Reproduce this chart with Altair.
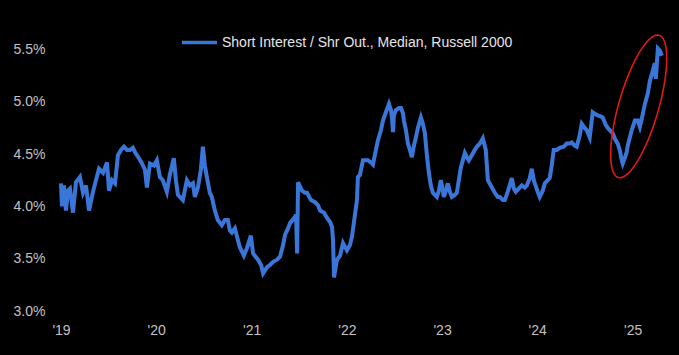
import math
import altair as alt
import pandas as pd

# ---- data (decimal year, short interest % of shares outstanding) ----
years = [
    2019.000, 2019.010, 2019.031, 2019.052, 2019.073, 2019.094, 2019.126, 2019.157, 2019.199, 2019.231,
    2019.262, 2019.294, 2019.336, 2019.367, 2019.399, 2019.441, 2019.483, 2019.504, 2019.535, 2019.567,
    2019.598, 2019.630, 2019.661, 2019.693, 2019.724, 2019.755, 2019.776, 2019.818, 2019.850, 2019.881,
    2019.902, 2019.934, 2019.976, 2020.007, 2020.039, 2020.070, 2020.112, 2020.143, 2020.185, 2020.207,
    2020.228, 2020.280, 2020.322, 2020.354, 2020.385, 2020.406, 2020.438, 2020.469, 2020.490, 2020.511,
    2020.532, 2020.563, 2020.584, 2020.616, 2020.647, 2020.689, 2020.721, 2020.752, 2020.773, 2020.794,
    2020.826, 2020.857, 2020.878, 2020.920, 2020.952, 2020.994, 2021.015, 2021.067, 2021.099, 2021.120,
    2021.141, 2021.162, 2021.193, 2021.225, 2021.267, 2021.298, 2021.330, 2021.351, 2021.382, 2021.403,
    2021.456, 2021.466, 2021.477, 2021.487, 2021.529, 2021.560, 2021.581, 2021.623, 2021.665, 2021.697,
    2021.718, 2021.760, 2021.791, 2021.823, 2021.844, 2021.854, 2021.865, 2021.886, 2021.896, 2021.928,
    2021.959, 2022.001, 2022.033, 2022.054, 2022.085, 2022.106, 2022.116, 2022.137, 2022.169, 2022.190,
    2022.221, 2022.253, 2022.274, 2022.305, 2022.326, 2022.358, 2022.379, 2022.410, 2022.442, 2022.463,
    2022.473, 2022.484, 2022.494, 2022.515, 2022.547, 2022.568, 2022.589, 2022.599, 2022.620, 2022.641,
    2022.662, 2022.683, 2022.704, 2022.725, 2022.746, 2022.777, 2022.798, 2022.819, 2022.840, 2022.861,
    2022.882, 2022.903, 2022.924, 2022.945, 2022.966, 2022.987, 2023.008, 2023.019, 2023.040, 2023.061,
    2023.082, 2023.103, 2023.134, 2023.155, 2023.176, 2023.197, 2023.218, 2023.239, 2023.260, 2023.281,
    2023.313, 2023.344, 2023.365, 2023.397, 2023.428, 2023.459, 2023.481, 2023.512, 2023.554, 2023.585,
    2023.606, 2023.638, 2023.659, 2023.690, 2023.732, 2023.753, 2023.774, 2023.806, 2023.837, 2023.869,
    2023.890, 2023.921, 2023.942, 2023.963, 2023.974, 2024.005, 2024.026, 2024.058, 2024.079, 2024.110,
    2024.131, 2024.152, 2024.173, 2024.205, 2024.236, 2024.278, 2024.309, 2024.341, 2024.362, 2024.393,
    2024.414, 2024.446, 2024.467, 2024.498, 2024.519, 2024.551, 2024.572, 2024.582, 2024.614, 2024.635,
    2024.666, 2024.687, 2024.719, 2024.740, 2024.771, 2024.792, 2024.823, 2024.845, 2024.866, 2024.887,
    2024.897, 2024.918, 2024.939, 2024.950, 2024.992, 2025.023, 2025.054, 2025.075, 2025.096, 2025.128,
    2025.159, 2025.180, 2025.212, 2025.233, 2025.243, 2025.264, 2025.285, 2025.306,
]
short_interest = [
    4.22, 4.00, 4.20, 3.96, 4.15, 4.17, 3.94, 4.23, 4.28, 4.13,
    4.20, 3.96, 4.14, 4.25, 4.36, 4.32, 4.42, 4.15, 4.25, 4.22,
    4.49, 4.54, 4.57, 4.54, 4.54, 4.56, 4.52, 4.46, 4.41, 4.35,
    4.18, 4.41, 4.39, 4.44, 4.28, 4.25, 4.14, 4.30, 4.46, 4.25,
    4.11, 4.06, 4.25, 4.20, 4.22, 4.09, 4.18, 4.35, 4.57, 4.39,
    4.28, 4.13, 4.09, 3.96, 3.87, 3.82, 3.87, 3.87, 3.77, 3.75,
    3.79, 3.68, 3.61, 3.53, 3.60, 3.72, 3.55, 3.49, 3.44, 3.36,
    3.39, 3.42, 3.44, 3.47, 3.49, 3.52, 3.63, 3.73, 3.79, 3.84,
    3.90, 3.92, 3.55, 4.23, 4.15, 4.13, 4.13, 4.06, 4.04, 4.01,
    3.96, 3.94, 3.89, 3.85, 3.80, 3.68, 3.32, 3.44, 3.49, 3.53,
    3.65, 3.58, 3.63, 3.71, 3.92, 4.06, 4.28, 4.30, 4.44, 4.44,
    4.44, 4.42, 4.40, 4.54, 4.63, 4.73, 4.82, 4.90, 4.98, 4.92,
    4.85, 4.71, 4.87, 4.92, 4.94, 4.94, 4.89, 4.82, 4.73, 4.60,
    4.54, 4.47, 4.58, 4.66, 4.75, 4.85, 4.79, 4.70, 4.49, 4.32,
    4.20, 4.13, 4.11, 4.09, 4.15, 4.25, 4.15, 4.09, 4.15, 4.22,
    4.14, 4.09, 4.11, 4.13, 4.25, 4.37, 4.44, 4.51, 4.47, 4.44,
    4.49, 4.54, 4.57, 4.60, 4.65, 4.54, 4.25, 4.20, 4.13, 4.09,
    4.09, 4.06, 4.06, 4.14, 4.27, 4.17, 4.14, 4.17, 4.20, 4.18,
    4.20, 4.27, 4.36, 4.25, 4.22, 4.14, 4.09, 4.15, 4.22, 4.25,
    4.27, 4.39, 4.54, 4.54, 4.56, 4.57, 4.60, 4.60, 4.61, 4.58,
    4.57, 4.68, 4.79, 4.75, 4.73, 4.66, 4.82, 4.90, 4.88, 4.87,
    4.86, 4.85, 4.78, 4.75, 4.72, 4.70, 4.63, 4.60, 4.54, 4.44,
    4.41, 4.46, 4.52, 4.58, 4.73, 4.82, 4.82, 4.76, 4.84, 4.98,
    5.08, 5.20, 5.30, 5.37, 5.22, 5.51, 5.49, 5.44,
]
series_name = "Short Interest / Shr Out., Median, Russell 2000"
y_ticks = [3.0, 3.5, 4.0, 4.5, 5.0, 5.5]
x_ticks = ["2019-01-01", "2020-01-01", "2021-01-01", "2022-01-01",
           "2023-01-01", "2024-01-01", "2025-01-01"]
# annotation ellipse centre (date, value)
ellipse_center_date = ["2025-01-24"]
ellipse_center_value = [4.956]


def to_date(t):
    y = int(t)
    return pd.Timestamp(y, 1, 1) + pd.Timedelta(days=(t - y) * 365.25)


df = pd.DataFrame({
    "date": [to_date(t) for t in years],
    "value": short_interest,
    "series": series_name,
})
ann = pd.DataFrame({"date": pd.to_datetime(ellipse_center_date),
                    "value": ellipse_center_value})

# ellipse outline as a custom symbol path (pixel units, size=4 => scale 1)
a, b, phi = 74.0, 20.0, math.radians(16)
ux, uy = math.sin(phi), -math.cos(phi)
vx, vy = math.cos(phi), math.sin(phi)
pts = []
for i in range(73):
    th = 2 * math.pi * i / 72
    px = a * math.cos(th) * ux + b * math.sin(th) * vx
    py = a * math.cos(th) * uy + b * math.sin(th) * vy
    pts.append(f"{px:.2f} {py:.2f}")
ellipse_path = "M " + " L ".join(pts) + " Z"

FONT = "Liberation Sans"
x_scale = alt.Scale(domain=["2019-01-01", "2025-05-01"])
y_scale = alt.Scale(domain=[3.0, 5.6], nice=False, zero=False)

line = alt.Chart(df).mark_line(strokeWidth=4, clip=False).encode(
    x=alt.X("date:T", scale=x_scale, title=None,
            axis=alt.Axis(values=x_ticks, labelExpr="\"'\" + timeFormat(datum.value, '%y')",
                          labelFont=FONT, labelFontSize=14, labelColor="#c4c0c0",
                          labelPadding=12, ticks=False, tickSize=0, domain=False,
                          grid=False, labelAlign="center", labelFlush=False)),
    y=alt.Y("value:Q", scale=y_scale, title=None,
            axis=alt.Axis(values=y_ticks, labelExpr="format(datum.value, '.1f') + '%'",
                          labelFont=FONT, labelFontSize=14, labelColor="#c4c0c0",
                          labelPadding=16, ticks=False, tickSize=0, domain=False,
                          grid=False, labelBaseline="middle")),
    color=alt.Color("series:N", scale=alt.Scale(range=["#3a76d8"]),
                    legend=alt.Legend(title=None, orient="none", legendX=119, legendY=-16,
                                      symbolType="stroke", symbolSize=1225,
                                      symbolStrokeWidth=3.5, labelFont=FONT,
                                      labelFontSize=14, labelColor="#e6e6e6",
                                      labelOffset=3, labelLimit=0, padding=0)),
)

ellipse = alt.Chart(ann).mark_point(
    shape=ellipse_path, size=4, filled=False, stroke="#e01818", strokeWidth=1.6,
    opacity=1,
).encode(
    x=alt.X("date:T", scale=x_scale),
    y=alt.Y("value:Q", scale=y_scale),
)

chart = alt.layer(line, ellipse).properties(
    width=603, height=272,
    background="black",
    autosize=alt.AutoSizeParams(type="none"),
    padding={"left": 61, "top": 39, "right": 15, "bottom": 44},
).configure_view(stroke=None)

chart.save("out.html", embed_options={"renderer": "svg", "actions": False})
